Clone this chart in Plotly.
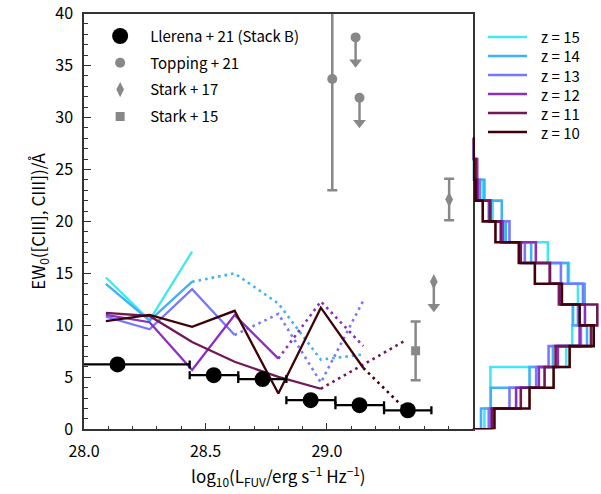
import plotly.graph_objects as go

FONT = "Noto Sans CJK JP"

# ---------------- data ----------------
x_bins = [28.09, 28.27, 28.445, 28.62, 28.80, 28.975, 29.15, 29.32]
z_labels = ["z = 15", "z = 14", "z = 13", "z = 12", "z = 11", "z = 10"]
z_colors = ["#40E8F0", "#40B0F8", "#7878FF", "#8A30C0", "#701858", "#400008"]

# solid (reliable) part of each EW curve, None = no value
ew_solid = {
    "z = 15": [14.6, 10.5, 17.1, None, None, None, None, None],
    "z = 14": [14.0, 10.45, 14.2, None, None, None, None, None],
    "z = 13": [10.84, 9.62, 13.48, 9.07, None, None, None, None],
    "z = 12": [11.0, 10.3, 5.7, 11.0, 6.8, None, None, None],
    "z = 11": [11.2, 10.9, 8.4, 6.5, 5.05, 3.9, None, None],
    "z = 10": [10.4, 11.0, 9.85, 11.4, 3.44, 11.7, 5.9, None],
}
# dotted (extrapolated) part
ew_dotted = {
    "z = 15": [None] * 8,
    "z = 14": [None, None, 14.2, 15.0, 12.1, 6.7, 7.2, None],
    "z = 13": [None, None, None, 9.07, 11.1, 4.5, 12.4, None],
    "z = 12": [None, None, None, None, 6.8, 12.3, 8.0, None],
    "z = 11": [None, None, None, None, None, 3.9, 6.2, 8.5],
    "z = 10": [None, None, None, None, None, None, 5.9, 2.0],
}

# Llerena+21 (Stack B)
ll_x = [28.138, 28.534, 28.735, 28.933, 29.134, 29.333]
ll_y = [6.24, 5.21, 4.83, 2.80, 2.32, 1.83]
ll_xlo = [27.80, 28.435, 28.635, 28.833, 29.035, 29.235]
ll_xhi = [28.435, 28.635, 28.833, 29.035, 29.235, 29.430]

# Topping+21
top_x = [29.022]
top_y = [33.7]
top_err = [10.7]
top_ul_x = [29.118, 29.134]
top_ul_y = [37.7, 31.9]

# Stark+17
st17_x = [29.503]
st17_y = [22.1]
st17_err = [2.0]
st17_ul_x = [29.44]
st17_ul_y = [14.2]

# Stark+15
st15_x = [29.365]
st15_y = [7.56]
st15_err_plus = [2.8]
st15_err_minus = [2.85]

# histograms of EW (bin edges in Angstrom, arbitrary-normalised counts)
hist_edges = [0, 2, 4, 6, 8, 10, 12, 14, 16, 18, 20, 22, 24, 26, 28]
hist_counts = {
    "z = 15": [11.7, 18, 17.7, 93.3, 99.3, 100, 105, 96, 75, 32, 20, 10, 0, 0],
    "z = 14": [8.3, 18, 56.7, 80, 114, 100, 111.7, 95, 58.3, 33, 29, 11.7, 2, 0],
    "z = 13": [16, 36.7, 63.3, 75.7, 108, 105, 110, 88, 52, 36.7, 16, 7, 4, 0],
    "z = 12": [18.7, 43.3, 66, 85, 106.7, 112, 88, 77, 63, 30, 18, 5, 4.5, 0],
    "z = 11": [19.3, 48, 71.7, 82.7, 118, 124.3, 86, 77, 48, 28, 17, 4, 3, 1],
    "z = 10": [21.7, 56.7, 80.7, 96.7, 120.7, 106.7, 89, 62, 46, 22.7, 10, 2.7, 1.3, 1],
}

UL_LEN = 2.4
GRAY = "#888888"

fig = go.Figure()

# ---- EW curves ----
for lab, col in zip(z_labels, z_colors):
    fig.add_trace(go.Scatter(x=x_bins, y=ew_dotted[lab], mode="lines",
                             line=dict(color=col, width=2.6, dash="2.6px,4px"),
                             connectgaps=False, showlegend=False, hoverinfo="skip"))
for lab, col in zip(z_labels, z_colors):
    fig.add_trace(go.Scatter(x=x_bins, y=ew_solid[lab], mode="lines",
                             line=dict(color=col, width=2.3),
                             connectgaps=False, name=lab, showlegend=False))

# ---- histograms (right panel) ----
for lab, col in zip(z_labels, z_colors):
    c = hist_counts[lab]
    hx = [0] + c + [0]
    hy = [hist_edges[0]] + hist_edges[1:] + [hist_edges[-1]]
    fig.add_trace(go.Scatter(x=hx, y=hy, mode="lines", xaxis="x2", yaxis="y2",
                             line=dict(color=col, width=2.6, shape="hv"),
                             showlegend=False, hoverinfo="skip"))

# ---- Topping+21 ----
fig.add_trace(go.Scatter(x=top_x, y=top_y, mode="markers", name="Topping + 21",
                         marker=dict(color=GRAY, size=10, symbol="circle"),
                         error_y=dict(type="data", array=top_err, color=GRAY,
                                      thickness=2.5, width=5),
                         legendgroup="a", legendrank=2))
ul_ax = top_ul_x + st17_ul_x
ul_ay = top_ul_y + st17_ul_y
fig.add_trace(go.Scatter(x=top_ul_x, y=top_ul_y, mode="markers",
                         marker=dict(color=GRAY, size=10, symbol="circle"),
                         error_y=dict(type="data", symmetric=False,
                                      array=[0] * len(top_ul_y),
                                      arrayminus=[UL_LEN] * len(top_ul_y),
                                      color=GRAY, thickness=2.5, width=0),
                         showlegend=False))
fig.add_trace(go.Scatter(x=ul_ax, y=[v - UL_LEN for v in ul_ay], mode="markers",
                         marker=dict(color=GRAY, size=11, symbol="triangle-down"),
                         showlegend=False))

# ---- Stark+17 ----
fig.add_trace(go.Scatter(x=st17_x, y=st17_y, mode="markers", name="Stark + 17",
                         marker=dict(color=GRAY, size=11, symbol="diamond-tall"),
                         error_y=dict(type="data", array=st17_err, color=GRAY,
                                      thickness=2.5, width=5),
                         legendgroup="b", legendrank=3))
fig.add_trace(go.Scatter(x=st17_ul_x, y=st17_ul_y, mode="markers",
                         marker=dict(color=GRAY, size=11, symbol="diamond-tall"),
                         error_y=dict(type="data", symmetric=False,
                                      array=[0] * len(st17_ul_y),
                                      arrayminus=[UL_LEN] * len(st17_ul_y),
                                      color=GRAY, thickness=2.5, width=0),
                         showlegend=False))

# ---- Stark+15 ----
fig.add_trace(go.Scatter(x=st15_x, y=st15_y, mode="markers", name="Stark + 15",
                         marker=dict(color=GRAY, size=9, symbol="square"),
                         error_y=dict(type="data", symmetric=False,
                                      array=st15_err_plus, arrayminus=st15_err_minus,
                                      color=GRAY, thickness=2.5, width=5),
                         legendgroup="c", legendrank=4))

# ---- Llerena+21 ----
fig.add_trace(go.Scatter(x=ll_x, y=ll_y, mode="markers", name="Llerena + 21 (Stack B)",
                         marker=dict(color="black", size=16, symbol="circle"),
                         error_x=dict(type="data", symmetric=False,
                                      array=[h - x for h, x in zip(ll_xhi, ll_x)],
                                      arrayminus=[x - l for l, x in zip(ll_xlo, ll_x)],
                                      color="black", thickness=2.3, width=4),
                         legendgroup="0", legendrank=1))

# ---- redshift key (right of the panel) ----
W, H = 601, 494
key_shapes, key_texts = [], []
for i, (lab, col) in enumerate(zip(z_labels, z_colors)):
    yk = 1 - (37 + 19 * i) / H
    key_shapes.append(dict(type="line", xref="paper", yref="paper",
                           x0=488 / W, x1=527 / W, y0=yk, y1=yk,
                           line=dict(color=col, width=2.6)))
    key_texts.append(dict(xref="paper", yref="paper", x=539 / W, y=yk,
                          xanchor="left", yanchor="middle", showarrow=False,
                          text=lab, font=dict(family=FONT, size=15, color="black")))

X0, X1 = 84 / W, 472.7 / W
Y0, Y1 = (H - 429.3) / H, (H - 13.5) / H

axis_common = dict(showgrid=False, zeroline=False, showline=True, linecolor="#333333",
                   linewidth=1.5, mirror=True, ticks="inside", ticklen=7, tickwidth=1.2,
                   tickcolor="#333333", automargin=False,
                   tickfont=dict(family=FONT, size=16, color="black"))

fig.update_layout(
    width=W, height=H, autosize=False,
    margin=dict(l=0, r=0, t=0, b=0, autoexpand=False),
    paper_bgcolor="white", plot_bgcolor="white",
    font=dict(family=FONT, size=15, color="black"),
    xaxis=dict(domain=[X0, X1], range=[28.0, 29.6], tickvals=[28.0, 28.5, 29.0],
               ticktext=["28.0", "28.5", "29.0"], ticklabelstandoff=7,
               minor=dict(dtick=0.1, tick0=28.0, ticks="inside", ticklen=4,
                          tickwidth=1, tickcolor="#333333"),
               title=dict(text="log<sub>10</sub>(L<sub>FUV</sub>/erg s<sup>\u22121</sup> Hz<sup>\u22121</sup>)",
                          font=dict(family=FONT, size=17), standoff=8),
               anchor="y", **axis_common),
    yaxis=dict(domain=[Y0, Y1], range=[0, 40], tickvals=[0, 5, 10, 15, 20, 25, 30, 35, 40],
               ticklabelstandoff=6,
               minor=dict(dtick=1, tick0=0, ticks="inside", ticklen=4, tickwidth=1,
                          tickcolor="#333333"),
               title=dict(text="EW<sub>0</sub>([CIII], CIII])/Å",
                          font=dict(family=FONT, size=17), standoff=5),
               anchor="x", **axis_common),
    xaxis2=dict(domain=[X1, 1.0], range=[0, 128], visible=False, anchor="y2"),
    yaxis2=dict(domain=[Y0, Y1], range=[0, 40], visible=False, anchor="x2"),
    legend=dict(x=0.15, y=0.96, xanchor="left", yanchor="top", bgcolor="rgba(0,0,0,0)",
                font=dict(family=FONT, size=15), itemwidth=50, tracegroupgap=4.3,
                traceorder="grouped"),
    shapes=key_shapes,
    annotations=key_texts,
)

fig.write_html("out.html")
